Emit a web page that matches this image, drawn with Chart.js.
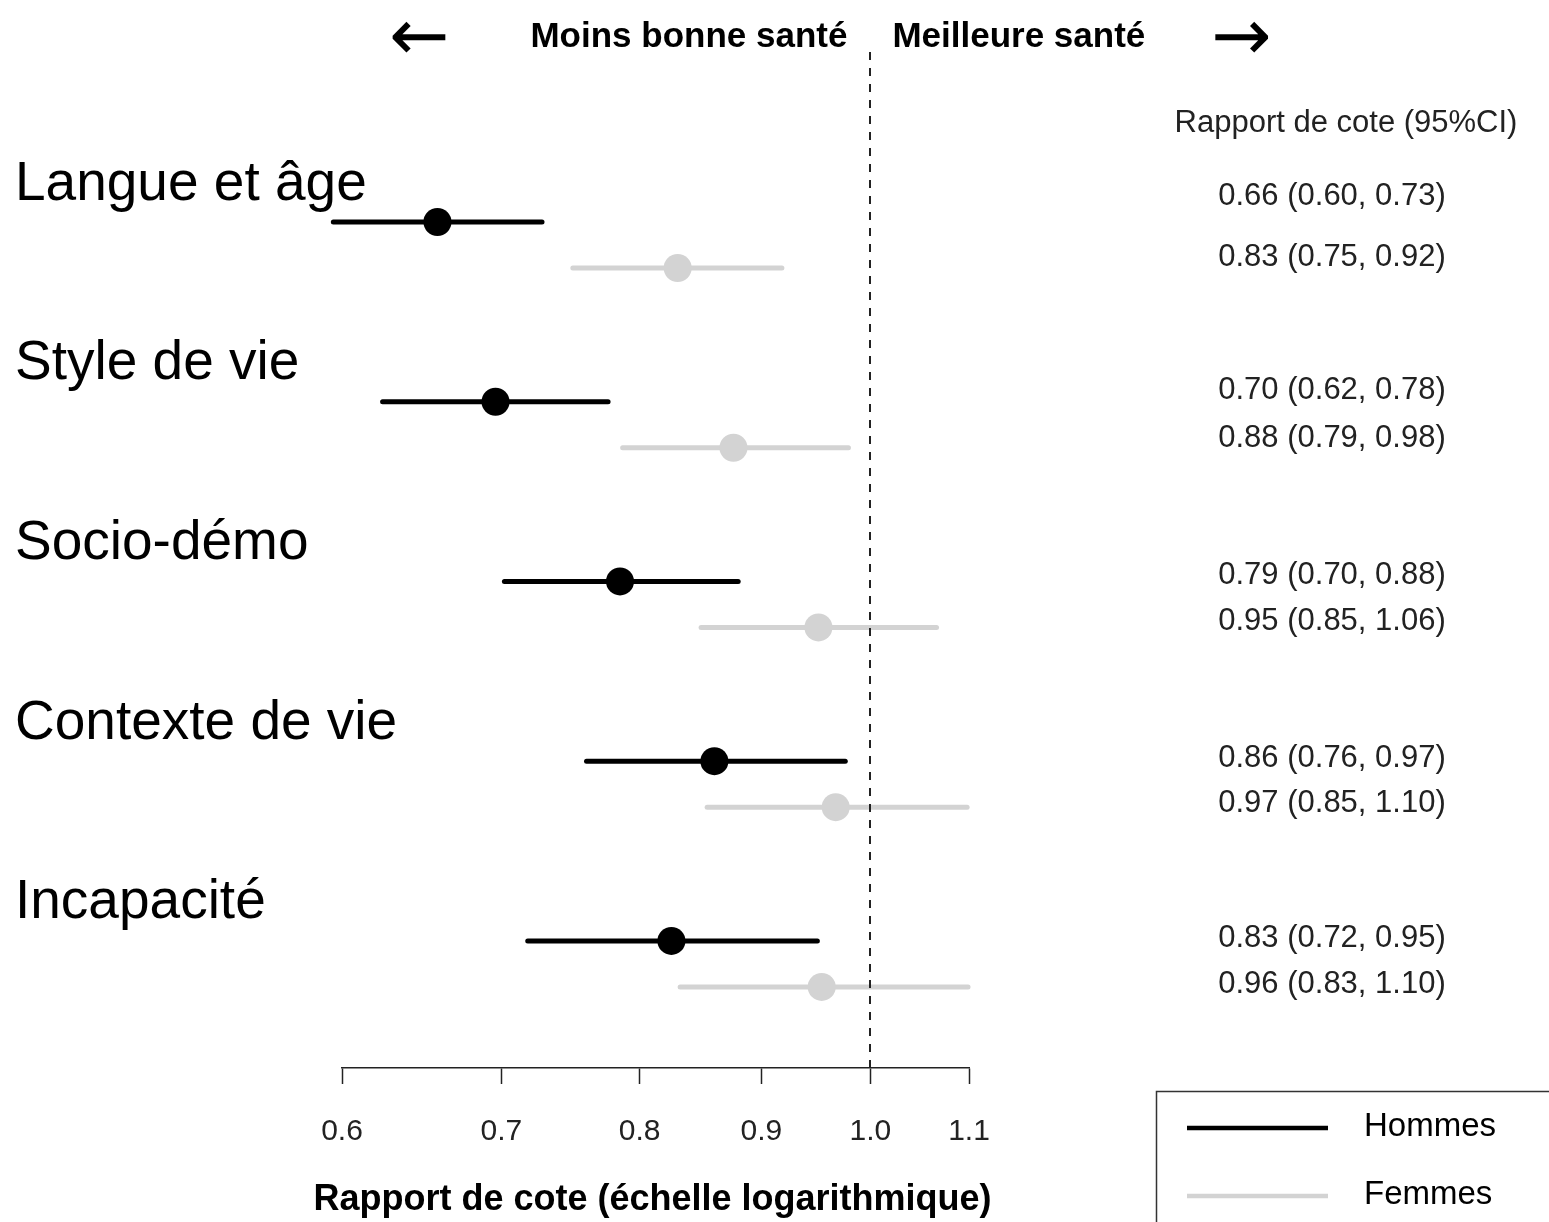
<!DOCTYPE html>
<html>
<head>
<meta charset="utf-8">
<script src="https://cdn.jsdelivr.net/npm/chart.js@4.4.1/dist/chart.umd.min.js"></script>
<style>
  html, body { margin: 0; padding: 0; background: #fff; }
  #wrap { width: 1549px; height: 1222px; }
</style>
</head>
<body>
<div id="wrap"><canvas id="c" width="1549" height="1222"></canvas></div>
<script>
// ---------------- data ----------------
const categories = ['Langue et âge', 'Style de vie', 'Socio-démo', 'Contexte de vie', 'Incapacité'];
const seriesNames = ['Hommes', 'Femmes'];
const hommesOR   = [0.658, 0.696, 0.785, 0.860, 0.825];
const hommesLow  = [0.595, 0.624, 0.702, 0.760, 0.718];
const hommesHigh = [0.728, 0.776, 0.880, 0.976, 0.950];
const femmesOR   = [0.830, 0.876, 0.951, 0.967, 0.954];
const femmesLow  = [0.750, 0.787, 0.849, 0.854, 0.832];
const femmesHigh = [0.918, 0.979, 1.066, 1.098, 1.099];
const hommesText = ['0.66 (0.60, 0.73)', '0.70 (0.62, 0.78)', '0.79 (0.70, 0.88)', '0.86 (0.76, 0.97)', '0.83 (0.72, 0.95)'];
const femmesText = ['0.83 (0.75, 0.92)', '0.88 (0.79, 0.98)', '0.95 (0.85, 1.06)', '0.97 (0.85, 1.10)', '0.96 (0.83, 1.10)'];
const xTicks = [0.6, 0.7, 0.8, 0.9, 1.0, 1.1];
const refValue = 1.0;
const columnTitle = 'Rapport de cote (95%CI)';
const axisTitle = 'Rapport de cote (échelle logarithmique)';
const leftHeader = 'Moins bonne santé';
const rightHeader = 'Meilleure santé';

// ---------------- layout / style ----------------
const BLACK = '#000000';
const GREY = '#D3D3D3';
const FONT = '"Liberation Sans", Arial, Helvetica, sans-serif';
const FEM_OFFSET = 0.256;          // in-group vertical offset (row units)
const ROW_H_TEXT = [-0.150, -0.067, -0.039, -0.022, -0.022];
const ROW_F_TEXT = [0.189, 0.200, 0.217, 0.228, 0.234];

const datasets = [];
// point estimates (drawn on top: lower index)
datasets.push({
  label: seriesNames[0],
  data: hommesOR.map((v, i) => ({ x: v, y: i })),
  backgroundColor: BLACK, borderColor: BLACK,
  pointRadius: 14, pointBorderWidth: 0, showLine: false, clip: false
});
datasets.push({
  label: seriesNames[1],
  data: femmesOR.map((v, i) => ({ x: v, y: i + FEM_OFFSET })),
  backgroundColor: GREY, borderColor: GREY,
  pointRadius: 14, pointBorderWidth: 0, showLine: false, clip: false
});
// confidence intervals
categories.forEach((c, i) => {
  datasets.push({
    label: seriesNames[0] + ' IC ' + c,
    data: [{ x: hommesLow[i], y: i }, { x: hommesHigh[i], y: i }],
    borderColor: BLACK, borderWidth: 5, borderCapStyle: 'round',
    showLine: true, pointRadius: 0, clip: false
  });
  datasets.push({
    label: seriesNames[1] + ' IC ' + c,
    data: [{ x: femmesLow[i], y: i + FEM_OFFSET }, { x: femmesHigh[i], y: i + FEM_OFFSET }],
    borderColor: GREY, borderWidth: 5, borderCapStyle: 'round',
    showLine: true, pointRadius: 0, clip: false
  });
});

const forestPlugin = {
  id: 'forestDecor',
  afterDatasetsDraw(chart) {
    const { ctx, scales: { x }, chartArea } = chart;
    const px = Math.round(x.getPixelForValue(refValue));
    ctx.save();
    ctx.strokeStyle = '#222';
    ctx.lineWidth = 2;
    ctx.setLineDash([8, 8]);
    ctx.beginPath();
    ctx.moveTo(px, chartArea.top);
    ctx.lineTo(px, chartArea.bottom);
    ctx.stroke();
    ctx.restore();
  },
  afterDraw(chart) {
    const { ctx, scales: { x, y }, chartArea } = chart;
    const px = x.getPixelForValue(refValue);
    ctx.save();
    ctx.fillStyle = BLACK;
    ctx.textBaseline = 'middle';
    // header
    ctx.font = 'bold 35px ' + FONT;
    ctx.textAlign = 'right';
    ctx.fillText(leftHeader, px - 23, 37);
    ctx.textAlign = 'left';
    ctx.fillText(rightHeader, px + 22, 37);
    ctx.font = '72px "DejaVu Sans", sans-serif';
    ctx.textAlign = 'center';
    ctx.fillText('\u2190', px - 451, 41);
    ctx.fillText('\u2192', px + 371, 41);
    // axis title
    ctx.font = 'bold 36px ' + FONT;
    ctx.textAlign = 'center';
    ctx.fillText(axisTitle, (chartArea.left + chartArea.right) / 2 - 3, 1200);
    // group labels
    ctx.font = '55px ' + FONT;
    ctx.textAlign = 'left';
    ctx.textBaseline = 'alphabetic';
    categories.forEach((c, i) => {
      ctx.fillText(c, 15, y.getPixelForValue(i - 0.125));
    });
    // right column
    ctx.fillStyle = '#222';
    ctx.textBaseline = 'middle';
    ctx.textAlign = 'center';
    ctx.font = '31px ' + FONT;
    ctx.fillText(columnTitle, 1346, y.getPixelForValue(-0.550));
    categories.forEach((c, i) => {
      ctx.fillText(hommesText[i], 1332, y.getPixelForValue(i + ROW_H_TEXT[i]) + 1);
      ctx.fillText(femmesText[i], 1332, y.getPixelForValue(i + ROW_F_TEXT[i]) + 1);
    });
    // legend
    ctx.strokeStyle = '#333';
    ctx.lineWidth = 1.5;
    ctx.setLineDash([]);
    ctx.strokeRect(1156.5, 1091.5, 500, 200);
    const legendItems = [
      { label: seriesNames[0], color: datasets[0].borderColor, ly: 1128 },
      { label: seriesNames[1], color: datasets[1].borderColor, ly: 1196 }
    ];
    ctx.font = '33px ' + FONT;
    ctx.textAlign = 'left';
    ctx.fillStyle = BLACK;
    legendItems.forEach(it => {
      ctx.strokeStyle = it.color;
      ctx.lineWidth = 4.5;
      ctx.lineCap = 'butt';
      ctx.beginPath();
      ctx.moveTo(1187, it.ly);
      ctx.lineTo(1328, it.ly);
      ctx.stroke();
      ctx.fillText(it.label, 1364, it.ly - 1);
    });
    ctx.restore();
  }
};

new Chart(document.getElementById('c'), {
  type: 'scatter',
  data: { datasets },
  plugins: [forestPlugin],
  options: {
    responsive: false,
    animation: false,
    events: [],
    layout: { padding: { left: 342, right: 580, top: 52, bottom: 0 } },
    plugins: { legend: { display: false }, tooltip: { enabled: false } },
    scales: {
      x: {
        type: 'logarithmic',
        position: 'bottom',
        min: 0.6,
        max: 1.1,
        afterBuildTicks: (scale) => { scale.ticks = xTicks.map(v => ({ value: v })); },
        afterFit: (scale) => { scale.height = 1222 - 1068; },
        grid: { drawOnChartArea: false, drawTicks: true, tickLength: 16, tickWidth: 1.5, tickColor: '#222' },
        border: { display: true, color: '#222', width: 1.5 },
        ticks: {
          autoSkip: false, maxRotation: 0, minRotation: 0,
          padding: 30, color: '#222',
          font: { family: FONT, size: 30 },
          callback: (v) => Number(v).toFixed(1)
        },
        title: { display: false }
      },
      y: {
        type: 'linear',
        display: false,
        reverse: true,
        min: -0.9458,
        max: 4.707
      }
    }
  }
});
</script>
</body>
</html>
